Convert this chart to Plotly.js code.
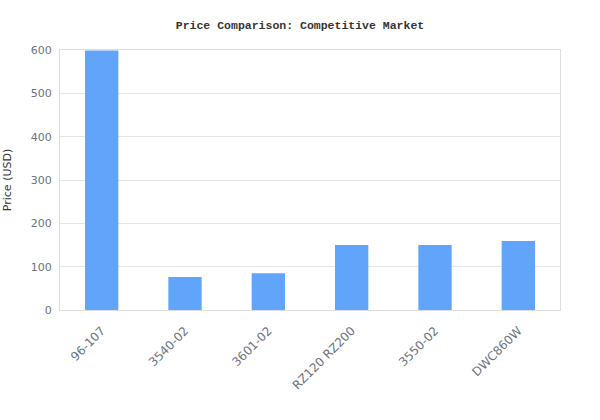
<!DOCTYPE html>
<html>
<head>
<meta charset="utf-8">
<script src="https://cdn.plot.ly/plotly-3.0.1.min.js"></script>
<style>
  html, body { margin: 0; padding: 0; background: #fff; }
  #chart { width: 600px; height: 420px; }
</style>
</head>
<body>
<div id="chart"></div>
<script>
let models = ['96-107', '3540-02', '3601-02', 'RZ120 RZ200', '3550-02', 'DWC860W']
let prices = [599, 76, 85, 150, 150, 159]

let bar_trace = {
  x: models,
  y: prices,
  type: 'bar',
  marker: { color: '#60a5fa' },
  hoverinfo: 'x+y'
}

let layout = {
  width: 600,
  height: 420,
  margin: { l: 60, r: 40, t: 50, b: 110 },
  paper_bgcolor: '#ffffff',
  plot_bgcolor: '#ffffff',
  bargap: 0.6,
  showlegend: false,
  title: {
    text: 'Price Comparison: Competitive Market',
    font: { family: 'Liberation Mono, DejaVu Sans Mono, monospace', size: 11.5, color: '#333333', weight: 'bold' },
    x: 0.5,
    xanchor: 'center',
    y: 0.95
  },
  xaxis: {
    type: 'category',
    tickangle: -45,
    tickfont: { family: 'DejaVu Sans, sans-serif', size: 12, color: '#6b7280' },
    ticklabelstandoff: 8,
    showline: true,
    linecolor: '#dddddd',
    linewidth: 1,
    mirror: true,
    showgrid: false,
    ticks: ''
  },
  yaxis: {
    title: { text: 'Price (USD)', font: { family: 'DejaVu Sans, sans-serif', size: 11, color: '#333333' }, standoff: 16 },
    range: [0, 600],
    dtick: 100,
    tickfont: { family: 'DejaVu Sans, sans-serif', size: 11, color: '#6b7280' },
    ticklabelstandoff: 5,
    gridcolor: '#e5e5e5',
    showline: true,
    linecolor: '#dddddd',
    linewidth: 1,
    mirror: true,
    zeroline: false,
    ticks: ''
  }
}

Plotly.newPlot('chart', [bar_trace], layout, { displayModeBar: false, staticPlot: true })
</script>
</body>
</html>
